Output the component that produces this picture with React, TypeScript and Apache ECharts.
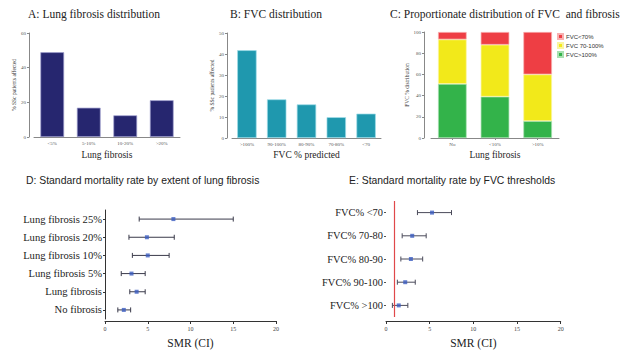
import React, { useEffect, useRef } from "react";
import * as echarts from "echarts";

// Panel A
const fibrosisCats = ["<5%", "5-10%", "10-20%", ">20%"];
const fibrosisPct = [48.9, 16.9, 12.5, 21.2];
// Panel B
const fvcCats = [">100%", "90-100%", "80-90%", "70-80%", "<70"];
const fvcPct = [41.8, 18.4, 16.0, 9.9, 11.6];
// Panel C
const propCats = ["No", "<10%", ">10%"];
const propGreen = [51, 39, 16];
const propYellow = [42, 49, 44];
const propRed = [7, 12, 40];
// Panel D
const smrFibCats = ["No fibrosis", "Lung fibrosis", "Lung fibrosis 5%", "Lung fibrosis 10%", "Lung fibrosis 20%", "Lung fibrosis 25%"];
const smrFib = [2.2, 3.7, 3.1, 5.0, 4.9, 8.0];
const smrFibLow = [1.5, 2.9, 1.9, 3.2, 2.8, 4.0];
const smrFibHigh = [3.0, 4.7, 4.7, 7.5, 8.1, 15.0];
// Panel E
const smrFvcCats = ["FVC% >100", "FVC% 90-100", "FVC% 80-90", "FVC% 70-80", "FVC% <70"];
const smrFvc = [1.46, 2.2, 2.85, 3.0, 5.27];
const smrFvcLow = [0.73, 1.3, 1.7, 1.85, 3.6];
const smrFvcHigh = [2.5, 3.35, 4.2, 4.6, 7.5];
const smrTicks = [0, 5, 10, 15, 20];
const refLine = 1;

const SERIF = "Liberation Serif";
const SANS = "Liberation Sans";

function errRender(color: string) {
  return (params: any, api: any) => {
    const yi = api.value(2);
    const lo = api.coord([api.value(0), yi]);
    const hi = api.coord([api.value(1), yi]);
    const c = 2.5;
    const style = { stroke: color, lineWidth: 1 };
    return {
      type: "group",
      children: [
        { type: "line", shape: { x1: lo[0], y1: lo[1], x2: hi[0], y2: hi[1] }, style },
        { type: "line", shape: { x1: lo[0], y1: lo[1] - c, x2: lo[0], y2: lo[1] + c }, style },
        { type: "line", shape: { x1: hi[0], y1: hi[1] - c, x2: hi[0], y2: hi[1] + c }, style },
      ],
    };
  };
}

const smallLabel = { fontSize: 5, color: "#555", fontFamily: SERIF };

export default function App() {
  const ref = useRef<HTMLDivElement>(null);
  useEffect(() => {
    if (!ref.current) return;
    const chart = echarts.init(ref.current, null, { renderer: "svg" });
    const titleStyle = { fontFamily: SERIF, fontSize: 11.5, fontWeight: "normal", color: "#222" };
    const titleStyle2 = { fontFamily: SANS, fontSize: 10.4, fontWeight: "normal", color: "#222" };
    const barAxisLine = { show: true, lineStyle: { color: "#888", width: 1 } };
    const option: any = {
      animation: false,
      backgroundColor: "#fff",
      title: [
        { text: "A: Lung fibrosis distribution", left: 28, top: 8, padding: 0, textStyle: titleStyle },
        { text: "B: FVC distribution", left: 230, top: 8, padding: 0, textStyle: titleStyle },
        { text: "C: Proportionate distribution of FVC  and fibrosis", left: 390, top: 8, padding: 0, textStyle: titleStyle },
        { text: "D: Standard mortality rate by extent of lung fibrosis", left: 26, top: 175, padding: 0, textStyle: titleStyle2 },
        { text: "E: Standard mortality rate by FVC thresholds", left: 349, top: 175, padding: 0, textStyle: titleStyle2 },
      ],
      legend: {
        data: ["FVC<70%", "FVC 70-100%", "FVC>100%"],
        orient: "vertical",
        left: 557,
        top: 33,
        padding: 0,
        itemWidth: 5,
        itemHeight: 5,
        itemGap: 2,
        icon: "rect",
        textStyle: { fontSize: 6, fontFamily: SANS, color: "#333", padding: [0, 0, 0, -2] },
      },
      grid: [
        { left: 34, top: 33, width: 146, height: 104 },
        { left: 232, top: 33, width: 149, height: 105 },
        { left: 431, top: 32, width: 128, height: 106 },
        { left: 105, top: 210, width: 171, height: 109.5 },
        { left: 386, top: 201, width: 174.7, height: 117 },
      ],
      xAxis: [
        {
          gridIndex: 0, type: "category", data: fibrosisCats, axisLine: barAxisLine, axisTick: { show: false },
          axisLabel: { ...smallLabel, margin: 4 },
          name: "Lung fibrosis", nameLocation: "middle", nameGap: 13,
          nameTextStyle: { fontFamily: SERIF, fontSize: 9.5, color: "#222" },
        },
        {
          gridIndex: 1, type: "category", data: fvcCats, axisLine: barAxisLine, axisTick: { show: false },
          axisLabel: { ...smallLabel, margin: 4 },
          name: "FVC % predicted", nameLocation: "middle", nameGap: 12,
          nameTextStyle: { fontFamily: SERIF, fontSize: 9.5, color: "#222" },
        },
        {
          gridIndex: 2, type: "category", data: propCats, axisLine: barAxisLine,
          axisTick: { show: true, alignWithLabel: true, length: 2, lineStyle: { color: "#888" } },
          axisLabel: { ...smallLabel, margin: 4 },
          name: "Lung fibrosis", nameLocation: "middle", nameGap: 12,
          nameTextStyle: { fontFamily: SERIF, fontSize: 9.5, color: "#222" },
        },
        {
          gridIndex: 3, type: "value", min: 0, max: 20, interval: 5, offset: 2,
          axisLine: { show: true, lineStyle: { color: "#333" } },
          axisTick: { show: true, length: 3, lineStyle: { color: "#333" } },
          splitLine: { show: false },
          axisLabel: { fontSize: 6, color: "#444", fontFamily: SERIF, margin: 5 },
          name: "SMR (CI)", nameLocation: "middle", nameGap: 16,
          nameTextStyle: { fontFamily: SERIF, fontSize: 11.5, color: "#222" },
        },
        {
          gridIndex: 4, type: "value", min: 0, max: 20, interval: 5, offset: 4,
          axisLine: { show: true, lineStyle: { color: "#333" } },
          axisTick: { show: true, length: 3, lineStyle: { color: "#333" } },
          splitLine: { show: false },
          axisLabel: { fontSize: 6, color: "#444", fontFamily: SERIF, margin: 5 },
          name: "SMR (CI)", nameLocation: "middle", nameGap: 16,
          nameTextStyle: { fontFamily: SERIF, fontSize: 11.5, color: "#222" },
        },
      ],
      yAxis: [
        {
          gridIndex: 0, type: "value", min: 0, max: 60, interval: 20, offset: 5,
          axisLine: barAxisLine, axisTick: { show: true, length: 2, lineStyle: { color: "#888" } },
          splitLine: { show: false }, axisLabel: { ...smallLabel, margin: 3 },
          name: "% SSc patients affected", nameLocation: "middle", nameGap: 10,
          nameTextStyle: { fontFamily: SERIF, fontSize: 5.5, color: "#333" },
        },
        {
          gridIndex: 1, type: "value", min: 0, max: 50, interval: 10, offset: 5,
          axisLine: barAxisLine, axisTick: { show: true, length: 2, lineStyle: { color: "#888" } },
          splitLine: { show: false }, axisLabel: { ...smallLabel, margin: 3 },
          name: "% SSc patients affected", nameLocation: "middle", nameGap: 10,
          nameTextStyle: { fontFamily: SERIF, fontSize: 5.5, color: "#333" },
        },
        {
          gridIndex: 2, type: "value", min: 0, max: 100, interval: 20, offset: 7,
          axisLine: barAxisLine, axisTick: { show: true, length: 2, lineStyle: { color: "#888" } },
          splitLine: { show: false }, axisLabel: { ...smallLabel, margin: 3 },
          name: "FVC % distribution", nameLocation: "middle", nameGap: 10,
          nameTextStyle: { fontFamily: SERIF, fontSize: 5.5, color: "#333" },
        },
        {
          gridIndex: 3, type: "category", data: smrFibCats,
          axisLine: { show: true, lineStyle: { color: "#333" } },
          axisTick: { show: true, length: 2, alignWithLabel: true, lineStyle: { color: "#333" } },
          axisLabel: { fontFamily: SERIF, fontSize: 10.6, color: "#222", margin: 3 },
        },
        {
          gridIndex: 4, type: "category", data: smrFvcCats,
          axisLine: { show: false },
          axisTick: { show: true, length: 2, alignWithLabel: true, lineStyle: { color: "#555" } },
          axisLabel: { fontFamily: SERIF, fontSize: 10.4, color: "#222", margin: 3 },
        },
      ],
      series: [
        {
          type: "bar", xAxisIndex: 0, yAxisIndex: 0, data: fibrosisPct, barWidth: "65%",
          itemStyle: { color: "#26266f", borderColor: "#a0a0d0", borderWidth: 0.7 },
        },
        {
          type: "bar", xAxisIndex: 1, yAxisIndex: 1, data: fvcPct, barWidth: "65%",
          itemStyle: { color: "#1f98ae", borderColor: "#9fdde8", borderWidth: 0.7 },
        },
        {
          name: "FVC>100%", type: "bar", stack: "c", xAxisIndex: 2, yAxisIndex: 2, data: propGreen, barWidth: "67%",
          itemStyle: { color: "#33b34a", borderColor: "#a8e0b0", borderWidth: 0.7 },
        },
        {
          name: "FVC 70-100%", type: "bar", stack: "c", xAxisIndex: 2, yAxisIndex: 2, data: propYellow, barWidth: "67%",
          itemStyle: { color: "#f2e91a", borderColor: "#faf5a0", borderWidth: 0.7 },
        },
        {
          name: "FVC<70%", type: "bar", stack: "c", xAxisIndex: 2, yAxisIndex: 2, data: propRed, barWidth: "67%",
          itemStyle: { color: "#ee3e44", borderColor: "#f8b0b0", borderWidth: 0.7 },
        },
        {
          type: "custom", xAxisIndex: 3, yAxisIndex: 3,
          data: smrFibCats.map((_, i) => [smrFibLow[i], smrFibHigh[i], i]),
          encode: { x: [0, 1], y: 2 },
          renderItem: errRender("#3a3a4a"),
        },
        {
          type: "scatter", xAxisIndex: 3, yAxisIndex: 3, symbol: "rect", symbolSize: 4,
          data: smrFibCats.map((_, i) => [smrFib[i], i]),
          itemStyle: { color: "#3b5cc0" },
        },
        {
          type: "custom", xAxisIndex: 4, yAxisIndex: 4,
          data: smrFvcCats.map((_, i) => [smrFvcLow[i], smrFvcHigh[i], i]),
          encode: { x: [0, 1], y: 2 },
          renderItem: errRender("#4a4a5a"),
        },
        {
          type: "scatter", xAxisIndex: 4, yAxisIndex: 4, symbol: "rect", symbolSize: 4,
          data: smrFvcCats.map((_, i) => [smrFvc[i], i]),
          itemStyle: { color: "#3b5cc0" },
          markLine: {
            silent: true, symbol: "none", label: { show: false },
            lineStyle: { color: "#e0484a", type: "solid", width: 1.2 },
            data: [{ xAxis: refLine }],
          },
        },
      ],
    };
    chart.setOption(option);
    return () => chart.dispose();
  }, []);
  return (
    <div
      ref={ref}
      style={{ position: "fixed", left: 0, top: 0, width: 627, height: 350, background: "#fff" }}
    />
  );
}
